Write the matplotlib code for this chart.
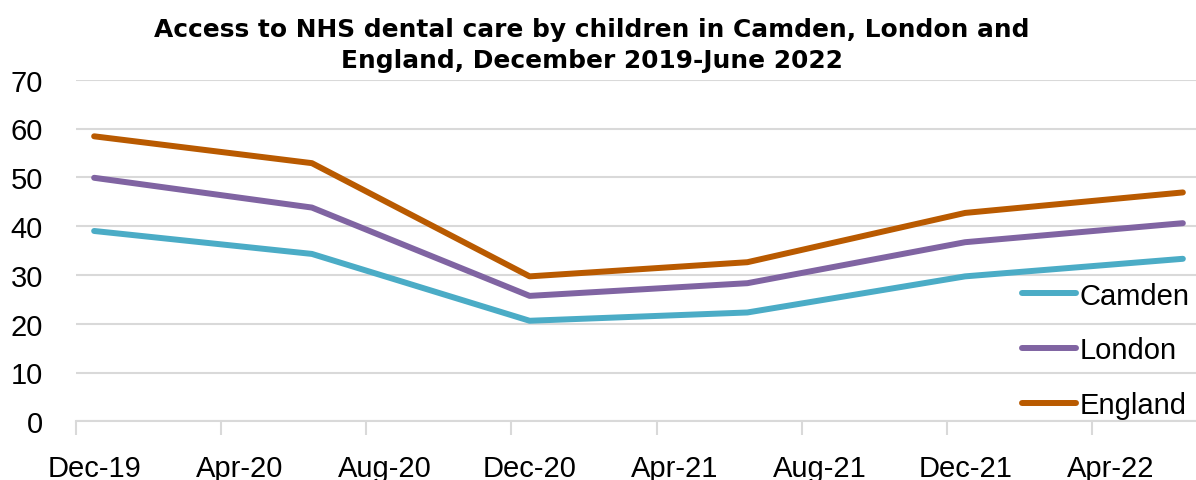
import matplotlib
matplotlib.use("Agg")
import matplotlib.pyplot as plt

# Data (month index 0 = Dec-19)
months = [0, 6, 12, 18, 24, 30]  # Dec-19, Jun-20, Dec-20, Jun-21, Dec-21, Jun-22
camden = [39.0, 34.3, 20.6, 22.3, 29.7, 33.3]
london = [49.9, 43.8, 25.7, 28.3, 36.7, 40.6]
england = [58.4, 52.9, 29.7, 32.6, 42.7, 46.9]
tick_labels = ["Dec-19", "Apr-20", "Aug-20", "Dec-20", "Apr-21", "Aug-21", "Dec-21", "Apr-22"]

colors = {"Camden": "#4BACC6", "London": "#8064A2", "England": "#B95A00"}

fig = plt.figure(figsize=(11.96, 4.81), dpi=100)
ax = fig.add_axes([76/1196, 58.7/481, (1201-76)/1196, (422.3-80.7)/481])

for name, vals in [("Camden", camden), ("London", london), ("England", england)]:
    ax.plot(months, vals, color=colors[name], lw=4.3, label=name, solid_capstyle="round")

ax.set_ylim(0, 70)
ax.set_xlim(-0.5, 30.5)
ax.set_yticks(range(0, 71, 10))
ax.grid(axis="y", color="#D9D9D9", lw=1.5)
ax.set_axisbelow(True)

major = [-0.5 + 4*i for i in range(8)]
ax.set_xticks(major)
ax.set_xticklabels([])
ax.set_xticks([4*i for i in range(8)], minor=True)
ax.set_xticklabels(tick_labels, minor=True, fontsize=21, family="Liberation Sans")
ax.tick_params(axis="x", which="major", length=10, width=1.5, color="#D9D9D9")
ax.tick_params(axis="x", which="minor", length=0, pad=23.5)
ax.tick_params(axis="y", length=0, labelsize=21, pad=23.8)
for lbl in ax.get_yticklabels():
    lbl.set_family("Liberation Sans")

for s in ["top", "right", "left"]:
    ax.spines[s].set_visible(False)
ax.spines["bottom"].set_color("#D9D9D9")
ax.spines["bottom"].set_linewidth(1.5)

leg = ax.legend(loc="upper left", bbox_to_anchor=((1010-76)/1125, (422.3-271)/341.6),
                frameon=False, handlelength=1.85, handletextpad=0.12,
                labelspacing=0.92, borderaxespad=0,
                prop={"family": "Liberation Sans", "size": 21})

fig.text(0.495, 0.962, "Access to NHS dental care by children in Camden, London and\nEngland, December 2019-June 2022",
         ha="center", va="top", fontsize=17.9, fontweight="bold", family="DejaVu Sans", linespacing=1.38)

fig.savefig("out.png", dpi=100)
